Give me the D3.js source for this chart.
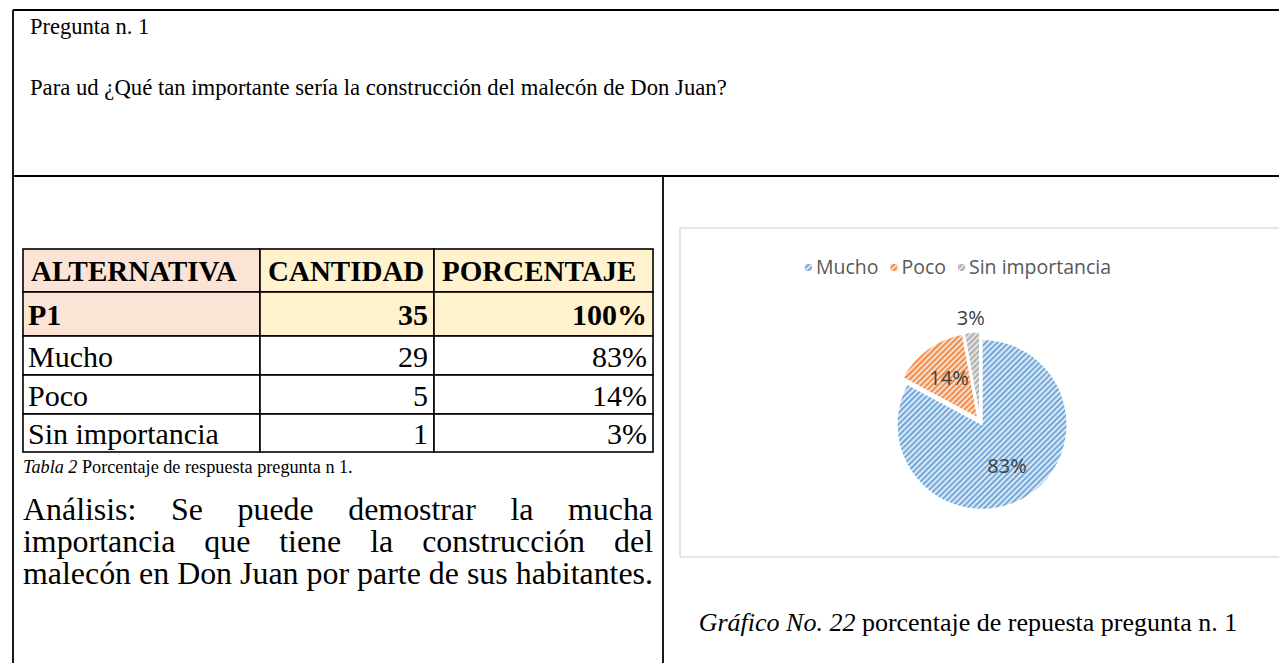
<!DOCTYPE html>
<html>
<head>
<meta charset="utf-8">
<script src="https://cdn.jsdelivr.net/npm/d3@7/dist/d3.min.js"></script>
<style>
body { margin: 0; background: #fff; }
svg { display: block; }
</style>
</head>
<body>
<div id="chart"></div>
<script>
// values
var categories = ["Mucho", "Poco", "Sin importancia"];
var counts = [29, 5, 1];
var percents = ["83%", "14%", "3%"];
var headers = ["ALTERNATIVA", "CANTIDAD", "PORCENTAJE"];
var totalRow = ["P1", "35", "100%"];

var question = "Pregunta n. 1";
var questionText = "Para ud \u00bfQu\u00e9 tan importante ser\u00eda la construcci\u00f3n del malec\u00f3n de Don Juan?";
var analysisLines = [
  "An\u00e1lisis: Se puede demostrar la mucha",
  "importancia que tiene la construcci\u00f3n del",
  "malec\u00f3n en Don Juan por parte de sus habitantes."
];

// colours
var fg = ["#5B9BD5", "#ED7D31", "#A5A5A5"];
var bg = ["#DAE7F5", "#FADBC7", "#E2E2E2"];

var W = 1279, H = 663;
var serif = "'Liberation Serif', 'Times New Roman', serif";
var sans = "'Open Sans', 'Noto Sans', sans-serif";

var svg = d3.select("#chart").append("svg")
  .attr("width", W)
  .attr("height", H);

//Patterns for hatched slices
var defs = svg.append("defs");
categories.forEach(function(c, i) {
  var p = defs.append("pattern")
    .attr("id", "hatch" + i)
    .attr("patternUnits", "userSpaceOnUse")
    .attr("width", 4)
    .attr("height", 4)
    .attr("patternTransform", "rotate(45)");
  p.append("rect").attr("width", 4).attr("height", 4).attr("fill", bg[i]);
  p.append("rect").attr("width", 1.6).attr("height", 4).attr("fill", fg[i]);
});

//Frame of the document table
var frame = svg.append("g")
  .attr("stroke", "#000")
  .attr("stroke-width", 1.8);
frame.append("line").attr("x1", 13).attr("x2", W).attr("y1", 10).attr("y2", 10);
frame.append("line").attr("x1", 13).attr("x2", 13).attr("y1", 10).attr("y2", H);
frame.append("line").attr("x1", 13).attr("x2", W).attr("y1", 176).attr("y2", 176);
frame.append("line").attr("x1", 663).attr("x2", 663).attr("y1", 176).attr("y2", H);

svg.append("text")
  .attr("x", 30).attr("y", 34)
  .attr("font-family", serif)
  .attr("font-size", "22.5px")
  .text(question);

svg.append("text")
  .attr("x", 30).attr("y", 95)
  .attr("font-family", serif)
  .attr("font-size", "22.7px")
  .text(questionText);

//Data table
var colX = [23, 260, 434, 653];
var rowY = [249, 292, 336, 375, 414, 452];
var rows = [headers, totalRow].concat(categories.map(function(c, i) {
  return [c, String(counts[i]), percents[i]];
}));

var table = svg.append("g");
rows.forEach(function(r, ri) {
  r.forEach(function(v, ci) {
    var fill = "#fff";
    if (ri < 2) fill = ci === 0 ? "#FBE4D5" : "#FFF2CC";
    table.append("rect")
      .attr("x", colX[ci])
      .attr("y", rowY[ri])
      .attr("width", colX[ci + 1] - colX[ci])
      .attr("height", rowY[ri + 1] - rowY[ri])
      .attr("fill", fill)
      .attr("stroke", "#000")
      .attr("stroke-width", 1.6);
  });
});
rows.forEach(function(r, ri) {
  r.forEach(function(v, ci) {
    var alignRight = ri > 0 && ci > 0;
    table.append("text")
      .attr("x", alignRight ? colX[ci + 1] - 6 : colX[ci] + (ri === 0 ? 8 : 5))
      .attr("y", (rowY[ri] + rowY[ri + 1]) / 2 + 1)
      .attr("dy", "0.34em")
      .attr("text-anchor", alignRight ? "end" : "start")
      .attr("font-family", serif)
      .attr("font-size", ri === 0 ? "29px" : (ri === 1 ? "30px" : "30px"))
      .attr("font-weight", ri < 2 ? "bold" : "normal")
      .text(v);
  });
});

//Caption of the table
var cap = svg.append("text")
  .attr("x", 23).attr("y", 473)
  .attr("font-family", serif)
  .attr("font-size", "18.2px");
cap.append("tspan").attr("font-style", "italic").text("Tabla 2");
cap.append("tspan").text(" Porcentaje de respuesta pregunta n 1.");

//Justified analysis paragraph, sized so that the last line fills the column
var paraLeft = 23, paraRight = 653;
var probe = svg.append("text")
  .attr("font-family", serif)
  .attr("font-size", "100px")
  .text(analysisLines[2]);
var paraSize = 100 * (paraRight - paraLeft) / probe.node().getComputedTextLength();
probe.remove();

analysisLines.forEach(function(line, li) {
  var words = line.split(" ");
  var g = svg.append("g");
  var widths = words.map(function(w) {
    var t = g.append("text")
      .attr("font-family", serif)
      .attr("font-size", paraSize + "px")
      .attr("y", 520 + li * 32)
      .text(w);
    return { node: t, w: t.node().getComputedTextLength() };
  });
  var total = d3.sum(widths, function(d) { return d.w; });
  var gap = (paraRight - paraLeft - total) / (words.length - 1);
  var x = paraLeft;
  widths.forEach(function(d) {
    d.node.attr("x", x);
    x += d.w + gap;
  });
});

//Chart area
svg.append("rect")
  .attr("x", 680).attr("y", 228)
  .attr("width", 720).attr("height", 329)
  .attr("fill", "#fff")
  .attr("stroke", "#D9D9D9")
  .attr("stroke-width", 1.3);

//Pie
var cx = 980, cy = 421, radius = 85, explode = 4;
var pie = d3.pie().sort(null).value(function(d) { return d; });
var arcs = pie(counts);
var arc = d3.arc().innerRadius(0).outerRadius(radius);

var pieG = svg.append("g")
  .attr("transform", "translate(" + cx + "," + cy + ")");

pieG.selectAll(".slice")
  .data(arcs)
  .enter()
  .append("path")
  .attr("class", "slice")
  .attr("transform", function(d) {
    var a = (d.startAngle + d.endAngle) / 2;
    return "translate(" + (Math.sin(a) * explode) + "," + (-Math.cos(a) * explode) + ")";
  })
  .attr("d", arc)
  .attr("fill", function(d, i) { return "url(#hatch" + i + ")"; })
  .attr("stroke", "#fff")
  .attr("stroke-width", 1.2);

//Labels: inside for big slices, outside for the small one
pieG.selectAll(".lbl")
  .data(arcs)
  .enter()
  .append("text")
  .attr("class", "lbl")
  .attr("transform", function(d) {
    var a = (d.startAngle + d.endAngle) / 2;
    var share = (d.endAngle - d.startAngle) / (2 * Math.PI);
    var rr = share < 0.05 ? radius + 18 : radius * 0.62;
    return "translate(" + (Math.sin(a) * rr) + "," + (-Math.cos(a) * rr) + ")";
  })
  .attr("dy", "0.35em")
  .attr("text-anchor", "middle")
  .attr("font-family", sans)
  .attr("font-size", "20px")
  .attr("fill", "#404040")
  .text(function(d, i) { return percents[i]; });

//Legend
var legend = svg.append("g");
var items = categories.map(function(c, i) {
  var g = legend.append("g");
  g.append("rect")
    .attr("width", 7).attr("height", 7)
    .attr("y", -3)
    .attr("fill", "url(#hatch" + i + ")");
  var t = g.append("text")
    .attr("x", 11)
    .attr("dy", "0.35em")
    .attr("font-family", sans)
    .attr("font-size", "19.5px")
    .attr("fill", "#595959")
    .text(c);
  return { g: g, w: 11 + t.node().getComputedTextLength() };
});
var legendGap = 12;
var legendW = d3.sum(items, function(d) { return d.w; }) + legendGap * (items.length - 1);
var lx = 958 - legendW / 2;
items.forEach(function(d) {
  d.g.attr("transform", "translate(" + lx + ",267)");
  lx += d.w + legendGap;
});

//Caption of the chart
var cap2 = svg.append("text")
  .attr("x", 968).attr("y", 631)
  .attr("text-anchor", "middle")
  .attr("font-family", serif)
  .attr("font-size", "26px");
cap2.append("tspan").attr("font-style", "italic").text("Gr\u00e1fico No. 22");
cap2.append("tspan").text(" porcentaje de repuesta pregunta n. 1");
</script>
</body>
</html>
